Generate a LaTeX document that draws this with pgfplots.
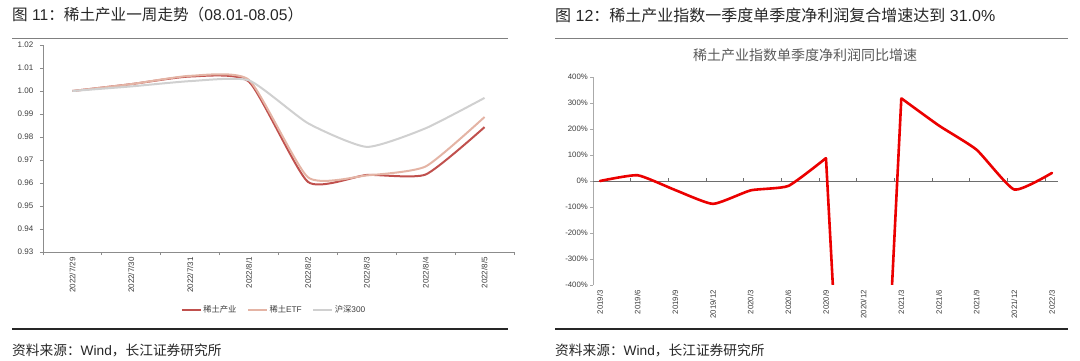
\documentclass[border=0pt]{standalone}
\usepackage{fontspec}
\setmainfont{Liberation Sans}
\newfontfamily\cjk{Noto Sans CJK SC}
\usepackage{pgfplots}
\pgfplotsset{compat=1.18}

\definecolor{rered}{RGB}{192,80,77}
\definecolor{etf}{RGB}{228,180,165}
\definecolor{hs}{RGB}{208,208,208}
\definecolor{axgray}{RGB}{140,140,140}
\definecolor{yaxgray}{RGB}{170,170,170}
\definecolor{zerogray}{RGB}{110,110,110}
\definecolor{txt}{RGB}{60,60,60}
\definecolor{linered}{RGB}{235,0,0}

\begin{document}
\begin{tikzpicture}[x=1pt,y=1pt]
\path[use as bounding box] (0,0) rectangle (1080,360);

% ---------- headings and frames ----------
\node[anchor=west, inner sep=0pt, font=\fontsize{15.6}{18}\selectfont, text=black!85] at (12,345)
  {{\cjk 图} 11{\cjk ：稀土产业一周走势（}08.01-08.05{\cjk ）}};
\node[anchor=west, inner sep=0pt, font=\fontsize{16}{18}\selectfont, text=black!85] at (555,345)
  {{\cjk 图} 12{\cjk ：稀土产业指数一季度单季度净利润复合增速达到} 31.0\%};
\draw[gray, line width=1.5pt] (12,321.5) -- (508,321.5);
\draw[gray, line width=1.5pt] (555,321.5) -- (1068,321.5);
\draw[black!85, line width=1.2pt] (12,31) -- (508,31);
\draw[black!85, line width=1.2pt] (555,31) -- (1068,31);
\node[anchor=west, inner sep=0pt, font=\fontsize{13.7}{16}\selectfont, text=black!85] at (12,10)
  {{\cjk 资料来源：}Wind{\cjk ，长江证券研究所}};
\node[anchor=west, inner sep=0pt, font=\fontsize{13.7}{16}\selectfont, text=black!85] at (555,10)
  {{\cjk 资料来源：}Wind{\cjk ，长江证券研究所}};
\node[inner sep=0pt, font=\cjk\fontsize{14}{16}\selectfont, text=black!65] at (805,305)
  {稀土产业指数单季度净利润同比增速};

% ---------- left chart ----------
\begin{axis}[
  at={(43pt,108pt)}, anchor=south west, scale only axis,
  width=471pt, height=207pt,
  xmin=-0.5, xmax=7.5, ymin=0.93, ymax=1.02,
  axis x line=bottom, axis y line=left,
  axis line style={-, draw=axgray, line width=0.8pt},
  tick align=outside, major tick length=3pt,
  tick style={draw=axgray, line width=0.8pt},
  xtick={-0.5,0.5,1.5,2.5,3.5,4.5,5.5,6.5,7.5}, xticklabels={},
  extra x ticks={0,1,2,3,4,5,6,7},
  extra x tick labels={2022/7/29,2022/7/30,2022/7/31,2022/8/1,2022/8/2,2022/8/3,2022/8/4,2022/8/5},
  extra x tick style={major tick length=0pt},
  xticklabel style={yshift=-4pt, rotate=90, anchor=east, inner sep=1pt,
    font=\fontsize{8}{9}\selectfont, text=txt},
  ytick={0.93,0.94,0.95,0.96,0.97,0.98,0.99,1.00,1.01,1.02},
  yticklabels={0.93,0.94,0.95,0.96,0.97,0.98,0.99,1.00,1.01,1.02},
  yticklabel style={xshift=-5.5pt, inner sep=1pt, font=\fontsize{8}{9}\selectfont, text=txt},
  /pgf/number format/assume math mode=true,
  legend style={at={(0.49,-0.28)}, anchor=center, draw=none, fill=none,
    font=\fontsize{8.3}{10}\selectfont, text=txt, inner sep=0pt,
    nodes={inner sep=1.5pt},
    /tikz/every even column/.append style={column sep=9pt}},
  legend columns=3,
  legend image code/.code={\draw[#1, line width=2pt] (0pt,0pt) -- (19pt,0pt);},
]
\addplot[rered, line width=2pt, smooth, tension=0.33] coordinates {
  (0,1.0000) (1,1.0030) (2,1.0063) (3,1.0040) (4,0.9605) (5,0.9635) (6,0.9637) (7,0.9843)};
\addlegendentry{{\cjk 稀土产业}}
\addplot[etf, line width=2pt, smooth, tension=0.33] coordinates {
  (0,1.0000) (1,1.0030) (2,1.0066) (3,1.0048) (4,0.9625) (5,0.9633) (6,0.9672) (7,0.9887)};
\addlegendentry{{\cjk 稀土}ETF}
\addplot[hs, line width=2pt, smooth, tension=0.33] coordinates {
  (0,1.0000) (1,1.0020) (2,1.0043) (3,1.0046) (4,0.9860) (5,0.9757) (6,0.9838) (7,0.9970)};
\addlegendentry{{\cjk 沪深}300}
\end{axis}

% ---------- right chart ----------
\begin{axis}[
  at={(593pt,75pt)}, anchor=south west, scale only axis,
  width=465pt, height=208pt,
  xmin=-0.186, xmax=12.16, ymin=-400, ymax=400,
  axis x line=bottom, axis y line=left,
  axis line style={-},
  x axis line style={draw=none},
  y axis line style={draw=yaxgray, line width=0.8pt},
  tick align=outside, major tick length=3pt,
  tick style={draw=yaxgray, line width=0.8pt},
  xtick=\empty,
  extra x ticks={0,1,2,3,4,5,6,7,8,9,10,11,12},
  extra x tick labels={2019/3,2019/6,2019/9,2019/12,2020/3,2020/6,2020/9,2020/12,2021/3,2021/6,2021/9,2021/12,2022/3},
  extra x tick style={major tick length=0pt},
  xticklabel style={yshift=-4pt, rotate=90, anchor=east, inner sep=1pt,
    font=\fontsize{7.8}{9}\selectfont, text=txt},
  ytick={-400,-300,-200,-100,0,100,200,300,400},
  yticklabels={-400\%,-300\%,-200\%,-100\%,0\%,100\%,200\%,300\%,400\%},
  yticklabel style={xshift=-1pt, inner sep=1pt, font=\fontsize{7.8}{9}\selectfont, text=txt},
  /pgf/number format/assume math mode=true,
]
\addplot[zerogray, line width=0.9pt] coordinates {(-0.186,0) (12.16,0)};
\addplot[zerogray, line width=0.7pt, ycomb] coordinates {
  (0.814,10) (1.814,10) (2.814,10) (3.814,10) (4.814,10) (5.814,10)
  (6.814,10) (7.814,10) (8.814,10) (9.814,10) (10.814,10) (11.814,10)};
\addplot[linered, line width=2.6pt, smooth, tension=0.3, line cap=round] coordinates {
  (0,0) (1,22) (2,-35) (3,-88) (4,-36) (5,-19) (6,88)};
\addplot[linered, line width=2.6pt, sharp plot, line join=round] coordinates {
  (6,88) (7,-2600) (8,318)};
\addplot[linered, line width=2.6pt, smooth, tension=0.3, line cap=round] coordinates {
  (8,318) (9,213) (10,120) (11,-33) (12,31)};
\end{axis}
\end{tikzpicture}
\end{document}
